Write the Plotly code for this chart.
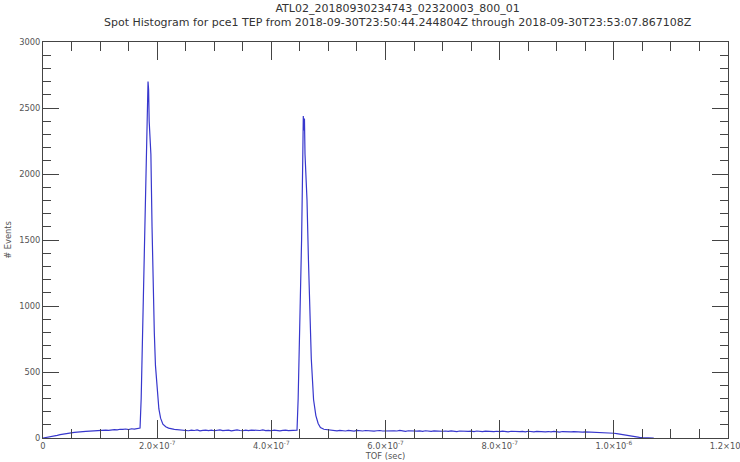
import plotly.graph_objects as go

title_line1 = "ATL02_20180930234743_02320003_800_01"
title_line2 = "Spot Histogram for pce1 TEP from 2018-09-30T23:50:44.244804Z through 2018-09-30T23:53:07.867108Z"

# time of flight in nanoseconds and event counts
tof_ns = [
    0, 5, 10, 15, 20, 25, 30, 35, 40, 45, 50, 55, 60, 65, 70, 75, 80, 85, 90, 95,
    100, 105, 110, 115, 120, 125, 130, 135, 140, 145, 150, 155, 160, 165, 170,
    172, 174, 176, 178, 180, 182, 184, 185, 186, 187, 189, 191, 193, 195, 197,
    200, 203, 206, 210, 215, 220, 230,
    240, 245, 250, 255, 260, 265, 270, 275, 280, 285, 290, 295, 300, 305, 310,
    315, 320, 325, 330, 335, 340, 345, 350, 355, 360, 365, 370, 375, 380, 385,
    390, 395, 400, 405, 410, 415, 420, 425, 430, 435, 440, 445,
    447, 449, 451, 453, 455, 456, 457, 458, 459, 461, 462.5, 465, 467, 470, 474,
    478, 482, 486, 492, 500,
    510, 515, 520, 525, 530, 535, 540, 545, 550, 555, 560, 565, 570, 575, 580,
    585, 590, 595, 600, 605, 610, 615, 620, 625, 630, 635, 640, 645, 650, 655,
    660, 665, 670, 675, 680, 685, 690, 695, 700, 705, 710, 715, 720, 725, 730,
    735, 740, 745, 750, 755, 760, 765, 770, 775, 780, 785, 790, 795, 800, 805,
    810, 815, 820, 825, 830, 835, 840, 845, 850, 855, 860, 865, 870, 875, 880,
    885, 890, 895, 900, 905, 910, 915, 920, 925, 930, 935, 940, 945, 950, 955,
    960, 965, 970, 975, 980,
    985, 990, 995, 1000, 1005, 1010, 1015, 1020, 1025, 1030, 1035, 1040, 1045,
    1050, 1055, 1060, 1065, 1070,
]
counts = [
    0, 3, 8, 12, 16, 20, 26, 30, 35, 38, 40, 42, 45, 44, 48, 50, 52, 50, 54, 56,
    55, 58, 60, 58, 62, 64, 61, 66, 65, 68, 64, 70, 67, 72, 75,
    300, 700, 1100, 1500, 1850, 2250, 2700, 2640, 2400, 2300, 2150, 1600, 1100, 800, 550,
    340, 220, 150, 105, 85, 75, 66,
    62, 58, 60, 55, 59, 57, 61, 54, 58, 60, 56, 59, 55, 58, 62,
    56, 57, 60, 54, 58, 61, 57, 55, 59, 56, 60, 58, 54, 57, 61,
    56, 58, 55, 59, 57, 54, 58, 60, 56, 58, 57, 60,
    300, 650, 1045, 1500, 2100, 2440, 2330, 2420, 2150, 1950, 1800, 1350, 1045, 600, 290,
    170, 110, 80, 66, 60,
    57, 54, 58, 55, 53, 57, 56, 52, 58, 55, 53, 57, 54, 56, 52,
    55, 57, 53, 54, 56, 52, 55, 53, 57, 54, 51, 55, 53, 56, 52,
    54, 51, 55, 53, 50, 54, 52, 55, 51, 53, 50, 54, 52, 49, 53,
    51, 54, 50, 52, 49, 53, 51, 48, 52, 50, 53, 49, 51, 48, 52,
    50, 47, 51, 49, 52, 48, 50, 47, 51, 49, 46, 50, 48, 51, 47,
    49, 46, 50, 48, 45, 49, 47, 50, 46, 48, 45, 47, 44, 46, 45,
    47, 44, 45, 43, 44,
    42, 41, 39, 36, 33, 29, 25, 21, 17, 13, 10, 7, 5,
    3, 2, 1, 0, 0,
]

x_tick_vals = [0, 2e-7, 4e-7, 6e-7, 8e-7, 1e-6, 1.2e-6]
x_tick_text = ["0", "2.0×10<sup>-7</sup>", "4.0×10<sup>-7</sup>", "6.0×10<sup>-7</sup>",
               "8.0×10<sup>-7</sup>", "1.0×10<sup>-6</sup>", "1.2×10<sup>-6</sup>"]
x_minor_vals = [i * 5e-8 for i in range(25)]
y_tick_vals = [0, 500, 1000, 1500, 2000, 2500, 3000]
y_minor_vals = [i * 100 for i in range(31)]

tof_s = [t * 1e-9 for t in tof_ns]

FONT = "DejaVu Sans, Verdana, sans-serif"

fig = go.Figure()
fig.add_trace(go.Scatter(x=tof_s, y=counts, mode="lines",
                         line=dict(color="rgb(55,55,205)", width=1.2),
                         hoverinfo="skip"))

axis_common = dict(showgrid=False, zeroline=False, showline=True, linecolor="#444",
                   linewidth=1, mirror="ticks", ticks="inside", tickcolor="#444",
                   automargin=False, ticklabeloverflow="allow",
                   tickfont=dict(family=FONT, size=8.3, color="#555"))

fig.update_xaxes(range=[0, 1.2e-6], tickmode="array", tickvals=x_tick_vals,
                 ticktext=x_tick_text, ticklen=18,
                 minor=dict(tickmode="array", tickvals=x_minor_vals, ticks="inside",
                            ticklen=9, tickcolor="#444"),
                 title=dict(text="TOF (sec)", standoff=1,
                            font=dict(family=FONT, size=8.3, color="#555")),
                 **axis_common)
fig.update_yaxes(range=[0, 3000], tickmode="array", tickvals=y_tick_vals,
                 ticktext=[str(v) for v in y_tick_vals], ticklen=16,
                 minor=dict(tickmode="array", tickvals=y_minor_vals, ticks="inside",
                            ticklen=8, tickcolor="#444"),
                 title=dict(text="# Events", standoff=6,
                            font=dict(family=FONT, size=8.3, color="#555")),
                 **axis_common)

fig.update_layout(
    template="none",
    width=740, height=462,
    margin=dict(l=43, r=12, t=42, b=24),
    paper_bgcolor="white", plot_bgcolor="white",
    showlegend=False,
    annotations=[
        dict(text=title_line1 + "<br>" + title_line2, xref="paper", yref="paper",
             x=(398 - 43) / 685, y=1 + (42 - 15) / 396, xanchor="center",
             yanchor="middle", showarrow=False, align="center",
             font=dict(family=FONT, size=11, color="#333")),
    ],
)

fig.write_html("out.html")
